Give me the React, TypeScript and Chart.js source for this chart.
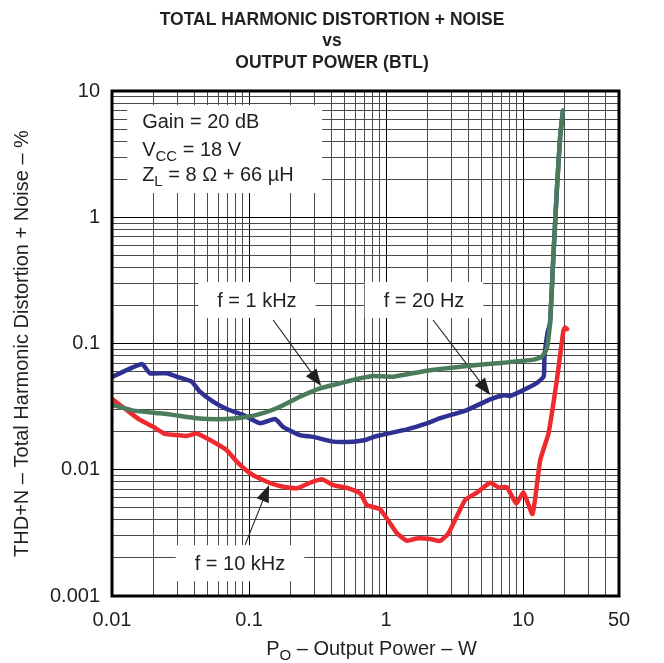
import React, { useEffect, useRef } from "react";
import { Chart, registerables } from "chart.js";

Chart.register(...registerables);

const FONT = '"Liberation Sans", Arial, Helvetica, sans-serif';
const INK = "#231f20";

// ---------- text ----------
const TITLE_LINES = ["TOTAL HARMONIC DISTORTION + NOISE", "vs", "OUTPUT POWER (BTL)"];
const X_TITLE_MAIN = "P";
const X_TITLE_SUB = "O";
const X_TITLE_REST = " – Output Power – W";
const Y_TITLE = "THD+N – Total Harmonic Distortion + Noise – %";

// ---------- axes ----------
const X_MIN = 0.01;
const X_MAX = 50;
const Y_MIN = 0.001;
const Y_MAX = 10;
const X_TICK_LABELS = [0.01, 0.1, 1, 10, 50];
const Y_TICK_LABELS = [0.001, 0.01, 0.1, 1, 10];
const X_GRID_VALUES = [
  0.01, 0.02, 0.03, 0.04, 0.05, 0.06, 0.07, 0.08, 0.09,
  0.1, 0.2, 0.3, 0.4, 0.5, 0.6, 0.7, 0.8, 0.9,
  1, 2, 3, 4, 5, 6, 7, 8, 9,
  10, 20, 30, 40, 50,
];
const Y_GRID_VALUES = [
  0.001, 0.002, 0.003, 0.004, 0.005, 0.006, 0.007, 0.008, 0.009,
  0.01, 0.02, 0.03, 0.04, 0.05, 0.06, 0.07, 0.08, 0.09,
  0.1, 0.2, 0.3, 0.4, 0.5, 0.6, 0.7, 0.8, 0.9,
  1, 2, 3, 4, 5, 6, 7, 8, 9,
  10,
];

// ---------- series: f = 20 Hz ----------
const P_20HZ = [
  0.0101, 0.0165, 0.0189, 0.0251, 0.0313, 0.0382, 0.0438, 0.0546, 0.0687, 0.0903,
  0.12, 0.155, 0.177, 0.235, 0.293, 0.41, 0.574, 0.703, 0.855, 1.42,
  1.98, 2.48, 3.88, 5.74, 7.18, 8.04, 10.05, 12.5, 14.1, 14.3,
  15.0, 15.7, 16.6, 17.6, 18.6, 19.5,
];
const THD_20HZ = [
  0.0546, 0.0688, 0.0581, 0.0581, 0.0536, 0.0498, 0.0415, 0.0346, 0.0303, 0.0272,
  0.0234, 0.0252, 0.0219, 0.0188, 0.0182, 0.0167, 0.0167, 0.0172, 0.0185, 0.0209,
  0.0233, 0.0256, 0.0297, 0.0361, 0.0389, 0.0384, 0.0428, 0.0485, 0.0546, 0.0786,
  0.12, 0.145, 0.488, 1.64, 4.35, 6.98,
];

// ---------- series: f = 1 kHz ----------
const P_1KHZ = [
  0.0101, 0.0143, 0.0224, 0.028, 0.0415, 0.058, 0.0813, 0.114, 0.159, 0.235,
  0.33, 0.461, 0.646, 0.808, 1.13, 1.98, 3.88, 6.43, 11.9, 13.7,
  14.9, 15.7, 16.6, 17.6, 18.6, 19.5,
];
const THD_1KHZ = [
  0.0326, 0.0294, 0.028, 0.0272, 0.0256, 0.0251, 0.0256, 0.0272, 0.0307, 0.0379,
  0.0442, 0.0484, 0.053, 0.0553, 0.0546, 0.0609, 0.0664, 0.0697, 0.0745, 0.0786,
  0.0917, 0.145, 0.488, 1.64, 4.35, 6.98,
];

// ---------- series: f = 10 kHz ----------
const P_10KHZ = [
  0.0101, 0.0128, 0.016, 0.02, 0.0244, 0.0297, 0.0351, 0.0415, 0.0519, 0.0687,
  0.0813, 0.102, 0.135, 0.168, 0.223, 0.279, 0.339, 0.412, 0.531, 0.648,
  0.723, 0.904, 1.2, 1.42, 1.67, 2.1, 2.48, 2.85, 3.77, 4.59,
  5.74, 6.6, 7.6, 8.89, 10.05, 11.7, 13.3, 15.3, 17.6, 19.7,
  20.3, 20.9,
];
const THD_10KHZ = [
  0.0361, 0.0297, 0.0248, 0.0219, 0.0192, 0.0188, 0.0185, 0.0194, 0.0172, 0.0143,
  0.0116, 0.00937, 0.00804, 0.00743, 0.00713, 0.00789, 0.0084, 0.00757, 0.00713, 0.0065,
  0.00526, 0.00486, 0.00314, 0.00274, 0.00286, 0.00283, 0.00273, 0.00314, 0.00576, 0.00658,
  0.00789, 0.00726, 0.00726, 0.00542, 0.00658, 0.00446, 0.0119, 0.0194, 0.0514, 0.128,
  0.134, 0.13,
];

// ---------- annotations (data coordinates) ----------
const NOTE_TEXT = ["f = 1 kHz", "f = 20 Hz", "f = 10 kHz"];
const NOTE_P = [0.114, 1.89, 0.0859];
const NOTE_THD = [0.221, 0.221, 0.00182];
const ARROW_FROM_P = [0.15, 2.2, 0.0935];
const ARROW_FROM_THD = [0.1535, 0.1535, 0.00254];
const ARROW_TO_P = [0.336, 5.74, 0.14];
const ARROW_TO_THD = [0.046, 0.0391, 0.00757];

const COND_P = 0.0129; // top-left corner of the conditions box
const COND_THD = 7.74;

const COLORS = { hz20: "#2e3192", khz1: "#4a7c5c", khz10: "#ee2a2e" };

type Part = { t: string; sub?: boolean };
const COND_LINES: Part[][] = [
  [{ t: "Gain = 20 dB" }],
  [{ t: "V" }, { t: "CC", sub: true }, { t: " = 18 V" }],
  [{ t: "Z" }, { t: "L", sub: true }, { t: " = 8 Ω + 66 µH" }],
];

function near(list: number[], v: number) {
  return list.some((a) => Math.abs(a - v) / a < 1e-6);
}

function drawParts(ctx: CanvasRenderingContext2D, parts: Part[], x: number, y: number, align: "left" | "center", size: number) {
  const subSize = size * 0.75;
  const widths = parts.map((p) => {
    ctx.font = `${p.sub ? subSize : size}px ${FONT}`;
    return ctx.measureText(p.t).width;
  });
  const total = widths.reduce((a, b) => a + b, 0);
  let cx = align === "center" ? x - total / 2 : x;
  ctx.textAlign = "left";
  ctx.textBaseline = "alphabetic";
  parts.forEach((p, i) => {
    ctx.font = `${p.sub ? subSize : size}px ${FONT}`;
    ctx.fillText(p.t, cx, y + (p.sub ? size * 0.27 : 0));
    cx += widths[i];
  });
}

const decorPlugin = {
  id: "decor",
  beforeDatasetsDraw(chart: any) {
    const { ctx, scales } = chart;
    const xs = scales.x;
    const ys = scales.y;
    ctx.save();
    // conditions box
    const bx = xs.getPixelForValue(COND_P);
    const by = ys.getPixelForValue(COND_THD);
    ctx.fillStyle = "#ffffff";
    ctx.fillRect(bx, by, 195, 88);
    ctx.fillStyle = INK;
    const offs = [23, 51, 76];
    COND_LINES.forEach((line, i) => drawParts(ctx, line, bx + 15, by + offs[i], "left", 20));

    // notes with arrows
    NOTE_TEXT.forEach((txt, i) => {
      const cx = xs.getPixelForValue(NOTE_P[i]);
      const cy = ys.getPixelForValue(NOTE_THD[i]);
      ctx.font = `20px ${FONT}`;
      const w = ctx.measureText(txt).width + 38;
      const h = 36;
      ctx.fillStyle = "#ffffff";
      ctx.fillRect(cx - w / 2, cy - h / 2, w, h);
      ctx.fillStyle = INK;
      ctx.textAlign = "center";
      ctx.textBaseline = "middle";
      ctx.fillText(txt, cx, cy + 1);

      const x0 = xs.getPixelForValue(ARROW_FROM_P[i]);
      const y0 = ys.getPixelForValue(ARROW_FROM_THD[i]);
      const x1 = xs.getPixelForValue(ARROW_TO_P[i]);
      const y1 = ys.getPixelForValue(ARROW_TO_THD[i]);
      const ang = Math.atan2(y1 - y0, x1 - x0);
      const hl = 17;
      const hw = 6.5;
      ctx.strokeStyle = INK;
      ctx.lineWidth = 1.1;
      ctx.beginPath();
      ctx.moveTo(x0, y0);
      ctx.lineTo(x1 - Math.cos(ang) * hl * 0.8, y1 - Math.sin(ang) * hl * 0.8);
      ctx.stroke();
      ctx.fillStyle = INK;
      ctx.beginPath();
      ctx.moveTo(x1, y1);
      ctx.lineTo(x1 - Math.cos(ang) * hl - Math.sin(ang) * hw, y1 - Math.sin(ang) * hl + Math.cos(ang) * hw);
      ctx.lineTo(x1 - Math.cos(ang) * hl + Math.sin(ang) * hw, y1 - Math.sin(ang) * hl - Math.cos(ang) * hw);
      ctx.closePath();
      ctx.fill();
    });
    ctx.restore();
  },
  afterDraw(chart: any) {
    const { ctx, chartArea: a } = chart;
    ctx.save();
    // frame
    ctx.strokeStyle = "#000";
    ctx.lineWidth = 3;
    ctx.strokeRect(a.left, a.top, a.right - a.left, a.bottom - a.top);

    // title
    ctx.fillStyle = INK;
    ctx.font = `bold 17.5px ${FONT}`;
    ctx.textAlign = "center";
    ctx.textBaseline = "alphabetic";
    const base = [25, 46, 68];
    TITLE_LINES.forEach((t, i) => ctx.fillText(t, chart.width / 2, base[i]));

    // x title
    drawParts(
      ctx,
      [{ t: X_TITLE_MAIN }, { t: X_TITLE_SUB, sub: true }, { t: X_TITLE_REST }],
      (a.left + a.right) / 2 + 6,
      a.bottom + 59,
      "center",
      20
    );

    // y title
    ctx.translate(22, (a.top + a.bottom) / 2);
    ctx.rotate(-Math.PI / 2);
    ctx.font = `20px ${FONT}`;
    ctx.textAlign = "center";
    ctx.textBaseline = "middle";
    ctx.fillText(Y_TITLE, 0, 0);
    ctx.restore();
  },
};

function series(px: number[], py: number[]) {
  return px.map((x, i) => ({ x, y: py[i] }));
}

export default function App() {
  const ref = useRef<HTMLCanvasElement>(null);
  useEffect(() => {
    if (!ref.current) return;
    const gridColor = (list: number[]) => (c: any) =>
      c.tick && near(list, c.tick.value) ? "#000000" : "#4a4a4a";
    const chart = new Chart(ref.current, {
      type: "scatter",
      data: {
        datasets: [
          {
            label: "f = 1 kHz",
            data: series(P_1KHZ, THD_1KHZ),
            borderColor: COLORS.khz1,
            order: 0,
          },
          {
            label: "f = 10 kHz",
            data: series(P_10KHZ, THD_10KHZ),
            borderColor: COLORS.khz10,
            order: 1,
          },
          {
            label: "f = 20 Hz",
            data: series(P_20HZ, THD_20HZ),
            borderColor: COLORS.hz20,
            order: 2,
          },
        ].map((d) => ({
          ...d,
          showLine: true,
          borderWidth: 4.5,
          pointRadius: 0,
          pointHoverRadius: 0,
          tension: 0.15,
          borderJoinStyle: "round" as const,
          borderCapStyle: "round" as const,
          fill: false,
        })),
      },
      options: {
        animation: false,
        responsive: false,
        devicePixelRatio: 1,
        events: [],
        layout: { padding: { top: 91, right: 45, left: 0, bottom: 0 } },
        plugins: { legend: { display: false }, tooltip: { enabled: false }, title: { display: false } },
        scales: {
          x: {
            type: "logarithmic",
            min: X_MIN,
            max: X_MAX,
            afterBuildTicks: (s: any) => {
              s.ticks = X_GRID_VALUES.map((v) => ({ value: v }));
            },
            afterFit: (s: any) => {
              s.height = 67;
              s.paddingLeft = 0;
              s.paddingRight = 0;
            },
            border: { display: false },
            grid: {
              color: gridColor(X_TICK_LABELS),
              lineWidth: 1,
              drawTicks: false,
              tickLength: 0,
            },
            ticks: {
              autoSkip: false,
              maxRotation: 0,
              minRotation: 0,
              padding: 12,
              color: INK,
              font: { family: FONT, size: 20 },
              callback: (v: any) => (near(X_TICK_LABELS, Number(v)) ? String(Number(v)) : ""),
            },
          },
          y: {
            type: "logarithmic",
            min: Y_MIN,
            max: Y_MAX,
            afterBuildTicks: (s: any) => {
              s.ticks = Y_GRID_VALUES.map((v) => ({ value: v }));
            },
            afterFit: (s: any) => {
              s.width = 112;
              s.paddingTop = 0;
              s.paddingBottom = 0;
            },
            border: { display: false },
            grid: {
              color: gridColor(Y_TICK_LABELS),
              lineWidth: 1,
              drawTicks: false,
              tickLength: 0,
            },
            ticks: {
              autoSkip: false,
              padding: 12,
              color: INK,
              font: { family: FONT, size: 20 },
              callback: (v: any) => (near(Y_TICK_LABELS, Number(v)) ? String(Number(v)) : ""),
            },
          },
        },
      },
      plugins: [decorPlugin],
    } as any);
    return () => chart.destroy();
  }, []);
  return (
    <div style={{ position: "absolute", left: 0, top: 0, width: 664, height: 663, background: "#fff" }}>
      <canvas ref={ref} width={664} height={663} style={{ display: "block", width: 664, height: 663 }} />
    </div>
  );
}
